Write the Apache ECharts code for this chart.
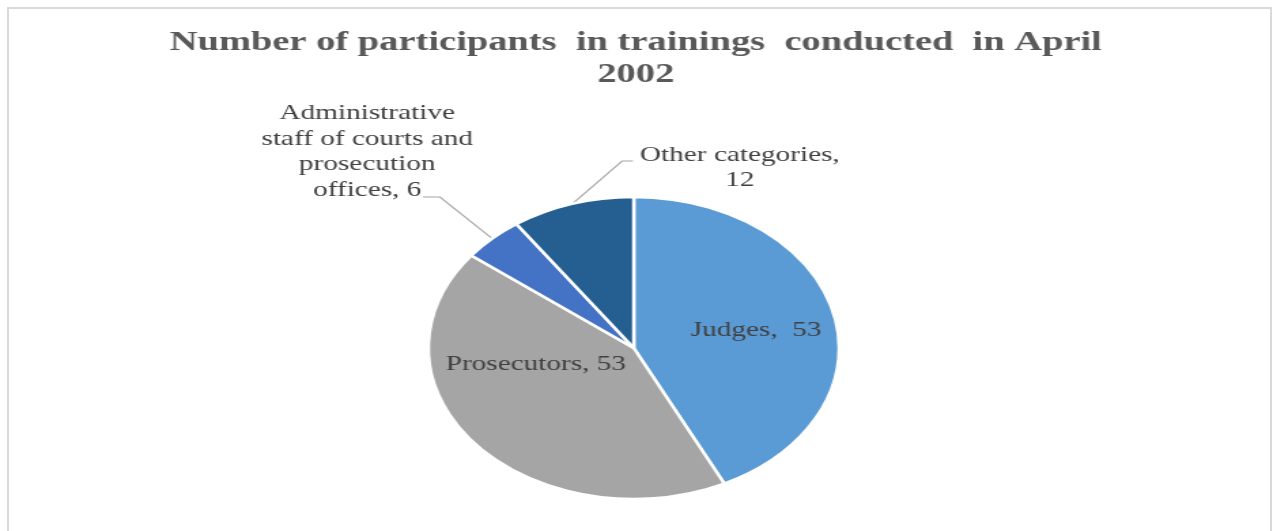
<!DOCTYPE html>
<html>
<head>
<meta charset="utf-8">
<script src="https://cdn.jsdelivr.net/npm/echarts@6/dist/echarts.min.js"></script>
<style>
  html, body { margin: 0; padding: 0; background: #fff; }
  .frame {
    position: absolute; left: 7px; top: 7px; width: 1261px; height: 530px;
    border: 2px solid #d9d9d9; border-bottom: none;
  }
  /* the source picture is stretched sideways, so the chart is drawn narrow and scaled */
  #chart {
    position: absolute; left: 0; top: 0; width: 935px; height: 531px;
    transform: scaleX(1.36); transform-origin: 0 0;
  }
</style>
</head>
<body>
<div class="frame"></div>
<div id="chart"></div>
<script>
var categories = ['Judges', 'Prosecutors', 'Administrative staff of courts and prosecution offices', 'Other categories']
var values = [53, 53, 6, 12]
var labelTexts = ['Judges,  53', 'Prosecutors, 53', 'Administrative\nstaff of courts and\nprosecution\noffices, 6', 'Other categories,\n12']
var colors = ['#5b9bd5', '#a5a5a5', '#4472c4', '#255e91']
var inside = [true, true, false, false]
var labelSpots = [[556, 330], [394, 364], [270, 152], [544, 168]]
// where the leader line meets the label, relative to the label centre: [endX, y, bendX]
var lineHooks = [null, null, [41, 45, 53.5], [-78.6, -7, -86.6]]

var myChart = echarts.init(document.getElementById('chart'))

var data = categories.map(function (name, i) {
  return {
    name: name,
    value: values[i],
    itemStyle: { color: colors[i] },
    label: { position: inside[i] ? 'inside' : 'outside' },
    labelLine: { show: !inside[i] }
  }
})

var option = {
  animation: false,
  title: {
    text: 'Number of participants  in trainings  conducted  in April\n2002',
    left: 'center',
    top: 22,
    padding: [5, 0, 5, 9],
    textStyle: {
      fontFamily: 'Liberation Serif',
      fontWeight: 'bold',
      fontSize: 28.3,
      lineHeight: 32,
      color: '#595959'
    }
  },
  series: [
    {
      type: 'pie',
      center: [466, 348],
      radius: 151,
      startAngle: 90,
      clockwise: true,
      itemStyle: {
        borderColor: '#fff',
        borderWidth: 2.5
      },
      label: {
        formatter: function (p) { return labelTexts[p.dataIndex] },
        fontFamily: 'Liberation Serif',
        fontSize: 21.5,
        lineHeight: 25.6,
        color: '#404040',
        align: 'center'
      },
      labelLine: {
        length: 20,
        length2: 10,
        lineStyle: { color: '#a6a6a6', width: 1.2 }
      },
      labelLayout: function (params) {
        var i = params.dataIndex
        var spot = labelSpots[i]
        var out = { x: spot[0], y: spot[1], align: 'center', verticalAlign: 'middle' }
        var hook = lineHooks[i]
        if (hook && params.labelLinePoints) {
          var p0 = params.labelLinePoints[0]
          out.labelLinePoints = [
            [p0[0], p0[1]],
            [spot[0] + hook[2], spot[1] + hook[1]],
            [spot[0] + hook[0], spot[1] + hook[1]]
          ]
        }
        return out
      },
      data: data
    }
  ]
}
myChart.setOption(option)
</script>
</body>
</html>
